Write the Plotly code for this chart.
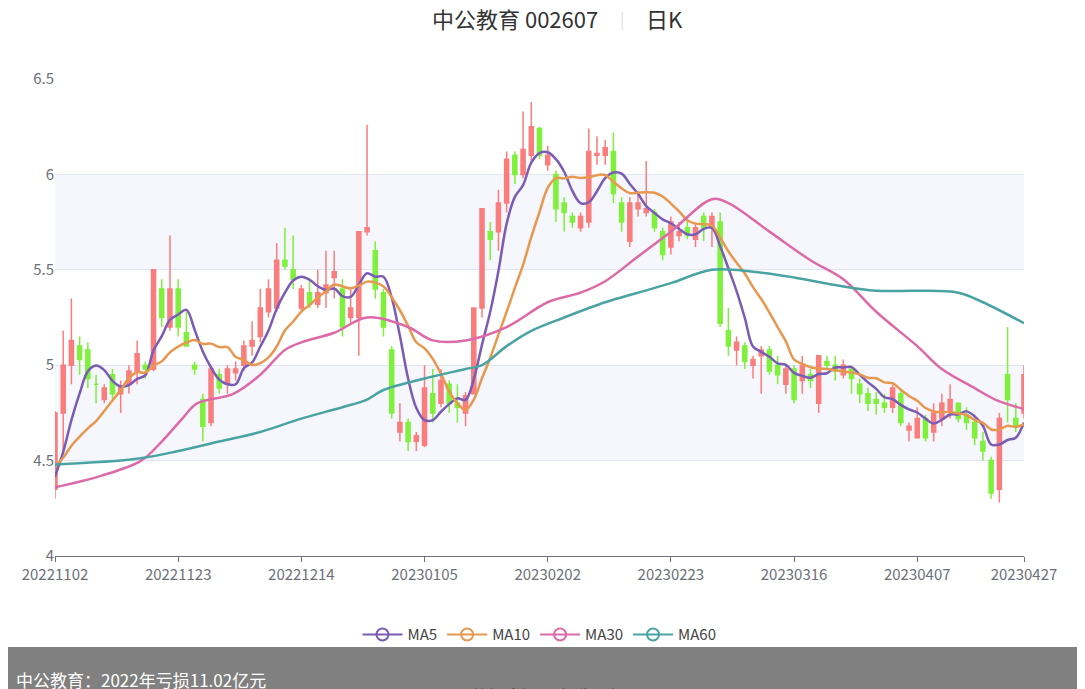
import plotly.graph_objects as go
import pandas as pd

tick_labels = ["20221102","20221123","20221214","20230105","20230202","20230223","20230316","20230407","20230427"]
tick_index = [0,15,30,45,60,75,90,105,118]

# open, high, low, close
ohlc = [
(4.35,4.76,4.30,4.75),(4.75,5.18,4.55,5.00),(5.00,5.35,4.90,5.13),(5.10,5.15,4.95,5.03),(5.08,5.12,4.88,4.93),
(4.90,4.95,4.80,4.90),(4.82,4.90,4.80,4.88),(4.95,4.98,4.82,4.85),(4.85,4.92,4.75,4.88),(4.90,5.00,4.85,4.97),
(4.97,5.13,4.90,5.06),(5.00,5.02,4.93,4.98),(4.98,5.50,4.97,5.50),(5.40,5.45,5.20,5.25),(5.20,5.68,5.18,5.40),
(5.40,5.45,5.15,5.20),(5.17,5.28,5.10,5.10),(5.00,5.02,4.95,4.98),(4.82,4.85,4.60,4.68),(4.70,5.00,4.68,4.98),
(4.95,4.98,4.85,4.88),(4.90,5.00,4.85,4.98),(4.96,5.02,4.92,4.98),(5.00,5.13,4.97,5.10),(5.10,5.23,5.05,5.13),
(5.15,5.40,5.12,5.30),(5.28,5.45,5.25,5.40),(5.30,5.64,5.28,5.55),(5.55,5.72,5.50,5.52),(5.50,5.68,5.40,5.45),
(5.30,5.42,5.28,5.40),(5.38,5.45,5.30,5.32),(5.32,5.50,5.30,5.38),(5.38,5.60,5.30,5.42),(5.46,5.60,5.35,5.49),
(5.40,5.45,5.15,5.20),(5.25,5.40,5.22,5.30),(5.25,5.70,5.05,5.70),(5.70,6.26,5.68,5.72),(5.60,5.65,5.35,5.40),
(5.38,5.40,5.15,5.20),(5.08,5.10,4.72,4.75),(4.65,4.80,4.60,4.70),(4.70,4.72,4.55,4.60),(4.60,4.65,4.55,4.63),
(4.58,5.00,4.57,4.88),(4.85,4.98,4.70,4.75),(4.80,4.98,4.78,4.92),(4.90,4.92,4.75,4.80),(4.80,4.90,4.70,4.78),
(4.75,4.86,4.68,4.84),(4.85,5.30,4.85,5.30),(5.30,5.82,5.25,5.82),(5.70,5.75,5.55,5.66),(5.70,5.92,5.60,5.85),
(5.85,6.12,5.80,6.08),(6.10,6.12,5.95,6.00),(6.00,6.33,5.98,6.13),(6.10,6.38,6.05,6.25),(6.24,6.25,6.08,6.10),
(6.05,6.15,6.02,6.10),(6.00,6.02,5.75,5.82),(5.85,5.88,5.70,5.80),(5.78,5.80,5.72,5.75),(5.72,5.80,5.70,5.78),
(5.75,6.24,5.72,6.12),(6.10,6.20,6.05,6.11),(6.10,6.18,6.05,6.14),(6.12,6.22,5.85,5.90),(5.85,5.88,5.70,5.75),
(5.65,5.88,5.62,5.85),(5.82,5.90,5.78,5.85),(5.80,6.07,5.78,5.82),(5.80,5.82,5.70,5.72),(5.70,5.72,5.55,5.58),
(5.62,5.78,5.58,5.75),(5.68,5.75,5.65,5.70),(5.72,5.78,5.66,5.68),(5.66,5.74,5.62,5.72),(5.78,5.80,5.65,5.72),
(5.72,5.80,5.62,5.78),(5.75,5.80,5.20,5.22),(5.18,5.30,5.05,5.10),(5.08,5.15,5.00,5.12),(5.10,5.12,4.98,5.02),
(5.00,5.05,4.93,5.03),(5.05,5.10,4.85,5.08),(5.08,5.10,4.95,4.97),(5.00,5.05,4.90,4.95),(4.90,5.00,4.85,4.98),
(4.98,5.00,4.80,4.82),(4.92,5.05,4.85,5.00),(4.95,4.98,4.88,4.92),(4.80,5.05,4.75,5.05),(5.02,5.05,4.98,5.00),
(5.00,5.05,4.92,4.97),(4.95,5.03,4.93,5.00),(4.98,5.00,4.85,4.93),(4.90,4.93,4.80,4.85),(4.85,4.88,4.76,4.80),
(4.82,4.86,4.74,4.80),(4.80,4.85,4.75,4.78),(4.78,4.90,4.75,4.88),(4.85,4.87,4.68,4.70),(4.66,4.70,4.60,4.68),
(4.62,4.78,4.62,4.72),(4.72,4.74,4.60,4.62),(4.65,4.80,4.60,4.75),(4.72,4.85,4.68,4.80),(4.76,4.90,4.72,4.82),
(4.80,4.80,4.70,4.72),(4.74,4.78,4.66,4.70),(4.70,4.72,4.58,4.62),(4.60,4.65,4.50,4.55),(4.50,4.52,4.30,4.33),
(4.35,4.75,4.28,4.72),(4.95,5.20,4.70,4.82),(4.72,4.80,4.65,4.68),(4.75,5.00,4.72,4.95),
]
prior_closes = [4.55,4.50,4.55,4.50,4.52,4.35,4.30,4.33,4.35]

ma30_idx = [0,5.6,10.5,13,15.5,17.3,21.7,25,28,30,34,38,43,46,50,55,60,64,67,71,75,80,82,87,92,96,100,105,108,112,114.5,118]
ma30_val = [4.36,4.42,4.50,4.60,4.72,4.80,4.85,4.95,5.08,5.12,5.17,5.25,5.20,5.13,5.13,5.20,5.33,5.38,5.44,5.57,5.70,5.87,5.85,5.70,5.55,5.45,5.28,5.10,4.98,4.88,4.82,4.77]
ma60_idx = [0,10,15,20,25,30,35,38,40,45,50,52,55,58,62,67,71,75,80,85,90,95,100,105,110,113,118]
ma60_val = [4.48,4.51,4.55,4.60,4.65,4.72,4.78,4.82,4.87,4.93,4.98,5.00,5.10,5.18,5.25,5.33,5.38,5.43,5.50,5.49,5.46,5.42,5.39,5.39,5.38,5.33,5.22]

df = pd.DataFrame(ohlc, columns=["o","h","l","c"])
n = len(df)
x = list(range(n))
allc = pd.Series(prior_closes + list(df["c"]))
ma5 = allc.rolling(5).mean().iloc[len(prior_closes):].tolist()
ma10 = allc.rolling(10).mean().iloc[len(prior_closes):].tolist()

RED, GREEN = "#fa7d7d", "#7ff03c"
cols = {"MA5":"#7a5bb5","MA10":"#e8974f","MA30":"#dc6aa8","MA60":"#4aa3a3"}

fig = go.Figure()
fig.add_trace(go.Candlestick(x=x, open=df.o, high=df.h, low=df.l, close=df.c,
    increasing=dict(line=dict(color=RED, width=1.5), fillcolor=RED),
    decreasing=dict(line=dict(color=GREEN, width=1.5), fillcolor=GREEN),
    whiskerwidth=0, showlegend=False, hoverinfo="skip"))
for name, xs, ys in [("MA5", x, ma5), ("MA10", x, ma10), ("MA30", ma30_idx, ma30_val), ("MA60", ma60_idx, ma60_val)]:
    fig.add_trace(go.Scatter(x=xs, y=ys, mode="lines", line=dict(color=cols[name], width=2.5, shape="spline"),
                             showlegend=False, hoverinfo="skip"))
for name in ["MA5","MA10","MA30","MA60"]:
    fig.add_trace(go.Scatter(x=[None], y=[None], mode="lines+markers", name=name,
        line=dict(color=cols[name], width=2),
        marker=dict(symbol="circle-open", size=12, color=cols[name], line=dict(width=2))))

shapes = []
for a, b in [(4.5, 5.0), (5.5, 6.0)]:
    shapes.append(dict(type="rect", xref="paper", yref="y", x0=0, x1=1, y0=a, y1=b,
                       fillcolor="#f5f7fc", line_width=0, layer="below"))
shapes.append(dict(type="rect", xref="paper", yref="paper", x0=-0.06, x1=1.09, y0=-0.33, y1=-0.191,
                   fillcolor="rgba(110,110,110,0.88)", line_width=0, layer="above"))

fig.update_layout(
    width=1085, height=689, margin=dict(l=47, r=69, t=71, b=141, autoexpand=False),
    paper_bgcolor="white", plot_bgcolor="white",
    font=dict(family="Noto Sans CJK SC, Noto Sans, sans-serif", color="#6e7079", size=14),
    shapes=shapes,
    showlegend=True,
    legend=dict(orientation="h", x=0.5, xanchor="center", y=-0.165, yanchor="middle",
                font=dict(size=15, color="#444"), itemwidth=40, bgcolor="rgba(0,0,0,0)"),
    xaxis=dict(range=[0, n-1], tickmode="array", tickvals=tick_index, ticktext=tick_labels,
               showgrid=False, showline=True, linecolor="#6e7079", ticks="outside", tickcolor="#6e7079",
               rangeslider=dict(visible=False), zeroline=False, tickfont=dict(size=15)),
    yaxis=dict(range=[4, 6.5], tickvals=[4, 4.5, 5, 5.5, 6, 6.5], ticktext=["4","4.5","5","5.5","6","6.5"],
               gridcolor="#e0e6f1", zeroline=False, showline=False, tickfont=dict(size=15)),
    annotations=[
        dict(text="中公教育 002607", xref="paper", yref="paper", x=0.562, y=1.128, xanchor="right",
             yanchor="middle", showarrow=False, font=dict(size=22, color="#333")),
        dict(text="|", xref="paper", yref="paper", x=0.585, y=1.128, yanchor="middle",
             showarrow=False, font=dict(size=16, color="#ddd")),
        dict(text="日K", xref="paper", yref="paper", x=0.608, y=1.128, xanchor="left",
             yanchor="middle", showarrow=False, font=dict(size=22, color="#333")),
        dict(text="中公教育：2022年亏损11.02亿元", xref="paper", yref="paper", x=-0.042, y=-0.258,
             xanchor="left", yanchor="middle", showarrow=False, font=dict(size=17, color="white")),
        dict(text="数据来源： 恒生聚源", xref="paper", yref="paper", x=0.51, y=-0.293,
             xanchor="center", yanchor="middle", showarrow=False, font=dict(size=17, color="#333")),
    ],
)
fig.write_html("out.html")
